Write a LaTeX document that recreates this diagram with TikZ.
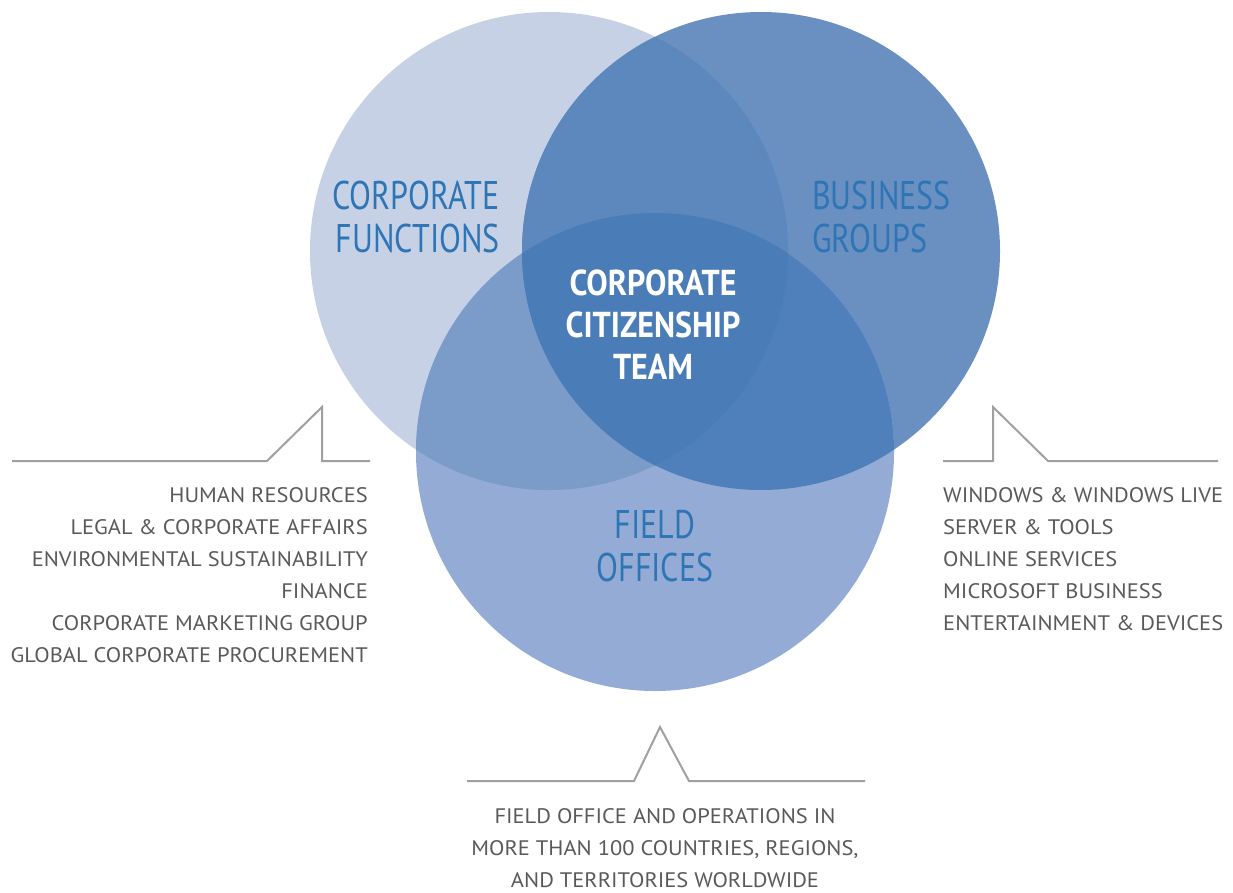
\documentclass[tikz,border=0pt]{standalone}
\usepackage{fontspec}
\setmainfont{PT Sans}
\newfontfamily\labelfont[FakeStretch=0.8]{PT Sans}
\newfontfamily\teamfont[FakeStretch=0.89]{PT Sans}
\newfontfamily\listfont[FakeStretch=1.07]{PT Sans}
\usetikzlibrary{positioning}

\definecolor{cfonly}{HTML}{C6D1E6}
\definecolor{bgonly}{HTML}{6A8FC1}
\definecolor{foonly}{HTML}{94ACD5}
\definecolor{cfbg}{HTML}{5D88BD}
\definecolor{cffo}{HTML}{7B9BC9}
\definecolor{bgfo}{HTML}{5080BC}
\definecolor{allthree}{HTML}{4A7DB8}
\definecolor{labelblue}{HTML}{2E75B6}
\definecolor{listgray}{HTML}{595959}
\definecolor{callgray}{HTML}{A0A0A0}

\begin{document}
\begin{tikzpicture}[x=1pt,y=-1pt]
        % Define styles
        \tikzstyle{circlelabel} = [text=labelblue, font=\labelfont\fontsize{40}{43}\selectfont, inner sep=0pt]
        \tikzstyle{teamlabel} = [text=white, font=\teamfont\bfseries\fontsize{36}{42}\selectfont, inner sep=0pt, align=center]
        \tikzstyle{listtext} = [text=listgray, font=\listfont\fontsize{21}{32}\selectfont, inner sep=0pt]
        \tikzstyle{callout} = [draw=callgray, line width=2pt]
        \useasboundingbox (0,0) rectangle (1233,892);

        % Circle centres
        \coordinate (cf) at (549,251);
        \coordinate (bg) at (761,251);
        \coordinate (fo) at (655,452);

        % Draw circles
        \fill[cfonly] (cf) circle (239);
        \fill[bgonly] (bg) circle (239);
        \fill[foonly] (fo) circle (239);
        \begin{scope}
            \clip (cf) circle (239);
            \fill[cfbg] (bg) circle (239);
            \fill[cffo] (fo) circle (239);
        \end{scope}
        \begin{scope}
            \clip (bg) circle (239);
            \fill[bgfo] (fo) circle (239);
            \clip (cf) circle (239);
            \fill[allthree] (fo) circle (239);
        \end{scope}

        % Circle labels
        \node[circlelabel, anchor=north east, align=right] (cflabel) at (500,181) {CORPORATE\\FUNCTIONS};
        \node[circlelabel, anchor=north west, align=left] (bglabel) at (812,181) {BUSINESS\\GROUPS};
        \node[circlelabel, anchor=north, align=center] (folabel) at (655,510) {FIELD\\OFFICES};
        \node[teamlabel, anchor=north] (team) at (653,270) {CORPORATE\\CITIZENSHIP\\TEAM};

        % Draw callouts
        \draw[callout] (12,461) -- (267,461) -- (322,407) -- (322,461) -- (370,461);
        \draw[callout] (943,461) -- (993,461) -- (993,407) -- (1048,461) -- (1218,461);
        \draw[callout] (467,781) -- (634,781) -- (660,727) -- (689,781) -- (865,781);

        % Lists
        \node[listtext, anchor=north east, align=right] (cflist) at (368,487) {
                HUMAN RESOURCES\\
                LEGAL \& CORPORATE AFFAIRS\\
                ENVIRONMENTAL SUSTAINABILITY\\
                FINANCE\\
                CORPORATE MARKETING GROUP\\
                GLOBAL CORPORATE PROCUREMENT};
        \node[listtext, anchor=north west, align=left] (bglist) at (943,487) {
                WINDOWS \& WINDOWS LIVE\\
                SERVER \& TOOLS\\
                ONLINE SERVICES\\
                MICROSOFT BUSINESS\\
                ENTERTAINMENT \& DEVICES};
        \node[listtext, anchor=north, align=center] (folist) at (665,808) {
                FIELD OFFICE AND OPERATIONS IN\\
                MORE THAN 100 COUNTRIES, REGIONS,\\
                AND TERRITORIES WORLDWIDE};
    \end{tikzpicture}
\end{document}
